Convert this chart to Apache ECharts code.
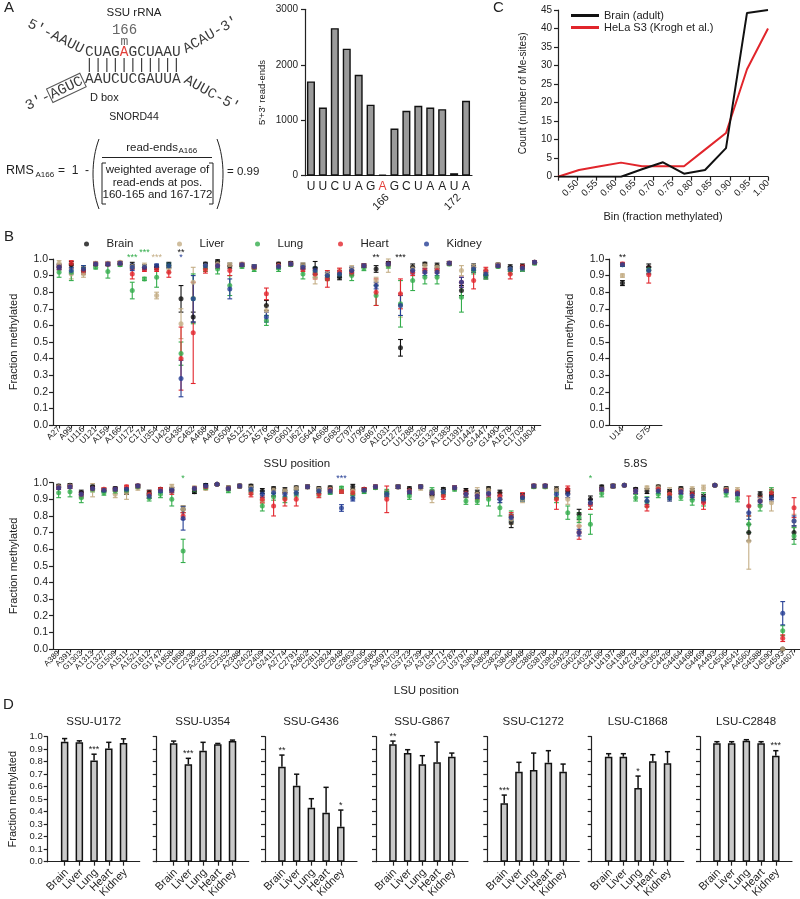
<!DOCTYPE html>
<html>
<head>
<meta charset="utf-8">
<title>rRNA 2'-O-methylation across tissues</title>
<script src="https://cdn.jsdelivr.net/npm/echarts@6.0.0/dist/echarts.min.js"></script>
<style>
html,body{margin:0;padding:0;background:#fff;}
#chart{width:800px;height:899px;}
</style>
</head>
<body>
<div id="chart"></div>
<script>
// ---------------- Panel A : read-ends around SSU A166 ----------------
const readSeq = ['U','U','C','U','A','G','A','G','C','U','A','A','U','A'];
const readEnds = [1700,1230,2660,2290,1820,1280,15,850,1170,1260,1230,1200,45,1350];
const readPosMarks = ['','','','','','','166','','','','','','172',''];
const modifiedIndex = 6;
const readTicks = [0,1000,2000,3000];

// ---------------- Panel C : histogram of methylation levels ----------------
const binLabels = ['0.50','0.55','0.60','0.65','0.70','0.75','0.80','0.85','0.90','0.95','1.00'];
const brainCounts = [0,0,0,0,2,3.9,0.8,1.8,7.7,44.2,45];
const helaCounts = [0,1.8,2.8,3.8,2.8,2.8,2.8,7.3,11.8,29,40];

// ---------------- Panel B : fraction methylated per site ----------------
const tissues = ['Brain','Liver','Lung','Heart','Kidney'];
const tissueColors = ['#111111','#c4ae86','#34ad4c','#e2262d','#263f95'];

const ssuPos = ['A27','A99','U116','U121','A159','A166','U172','C174','U354','U428','G436','C462','A468','A484','G509','A512','C517','A576','A590','G601','U627','G644','A668','G683','C797','U799','G867','A1031','C1272','U1288','U1326','G1328','A1383','C1391','U1442','G1447','G1490','A1678','C1703','U1804'];
const ssuBrain  = [0.955,0.965,0.93,0.97,0.97,0.975,0.96,0.95,0.95,0.965, 0.76,0.65,0.97,0.985,0.96,0.965,0.955,0.72,0.97,0.975, 0.96,0.945,0.90,0.89,0.93,0.96,0.94,0.975,0.465,0.95, 0.97,0.96,0.975,0.81,0.95,0.90,0.965,0.95,0.955,0.98];
const ssuLiver  = [0.975,0.91,0.91,0.975,0.975,0.98,0.955,0.96,0.78,0.94, 0.61,0.86,0.96,0.97,0.965,0.97,0.955,0.69,0.96,0.97, 0.96,0.89,0.91,0.92,0.94,0.96,0.87,0.96,0.72,0.94, 0.96,0.95,0.975,0.93,0.95,0.92,0.965,0.94,0.94,0.98];
const ssuLung   = [0.92,0.92,0.94,0.95,0.925,0.965,0.81,0.88,0.89,0.96, 0.43,0.76,0.945,0.94,0.84,0.955,0.94,0.63,0.945,0.965, 0.91,0.92,0.89,0.91,0.90,0.945,0.78,0.96,0.73,0.87, 0.89,0.89,0.97,0.77,0.93,0.90,0.955,0.93,0.94,0.975];
const ssuHeart  = [0.95,0.975,0.93,0.97,0.97,0.975,0.91,0.94,0.94,0.92, 0.40,0.555,0.935,0.96,0.93,0.965,0.95,0.79,0.96,0.97, 0.94,0.91,0.88,0.925,0.92,0.96,0.80,0.97,0.79,0.92, 0.93,0.93,0.975,0.86,0.87,0.93,0.96,0.91,0.95,0.98];
const ssuKidney = [0.95,0.93,0.94,0.97,0.97,0.975,0.95,0.95,0.96,0.96, 0.28,0.76,0.96,0.96,0.82,0.965,0.955,0.65,0.955,0.97, 0.95,0.93,0.90,0.91,0.93,0.96,0.84,0.97,0.72,0.93, 0.92,0.92,0.975,0.86,0.94,0.91,0.96,0.94,0.945,0.98];
const ssuBrainErr  = [0.015,0.02,0.02,0.01,0.01,0.01,0.02,0.015,0.015,0.015, 0.08,0.03,0.01,0.01,0.015,0.01,0.01,0.03,0.01,0.01, 0.015,0.04,0.02,0.015,0.02,0.01,0.02,0.01,0.05,0.02, 0.01,0.015,0.01,0.03,0.02,0.02,0.01,0.015,0.015,0.01];
const ssuLiverErr  = [0.015,0.03,0.02,0.01,0.01,0.01,0.01,0.015,0.02,0.02, 0.09,0.09,0.015,0.015,0.01,0.01,0.01,0.03,0.015,0.01, 0.015,0.04,0.02,0.02,0.02,0.01,0.02,0.04,0.07,0.02, 0.015,0.015,0.01,0.03,0.015,0.02,0.01,0.015,0.015,0.01];
const ssuLungErr   = [0.03,0.05,0.02,0.01,0.04,0.01,0.05,0.01,0.06,0.015, 0.07,0.15,0.02,0.03,0.06,0.01,0.015,0.03,0.02,0.01, 0.03,0.03,0.02,0.02,0.03,0.015,0.06,0.015,0.14,0.06, 0.04,0.04,0.01,0.09,0.02,0.02,0.01,0.02,0.015,0.01];
const ssuHeartErr  = [0.015,0.015,0.02,0.01,0.01,0.01,0.03,0.015,0.015,0.03, 0.19,0.305,0.02,0.015,0.03,0.01,0.01,0.035,0.015,0.01, 0.015,0.03,0.05,0.02,0.02,0.01,0.08,0.01,0.09,0.02, 0.015,0.015,0.01,0.03,0.05,0.02,0.01,0.03,0.015,0.01];
const ssuKidneyErr = [0.015,0.02,0.02,0.01,0.01,0.01,0.02,0.015,0.01,0.015, 0.11,0.14,0.015,0.015,0.06,0.01,0.01,0.03,0.015,0.01, 0.015,0.02,0.02,0.02,0.02,0.01,0.02,0.01,0.06,0.02, 0.02,0.02,0.01,0.03,0.02,0.02,0.01,0.015,0.015,0.01];
const ssuStars = [['U172','Lung','***',1.02],['C174','Lung','***',1.05],['U354','Liver','***',1.02],['G436','Brain','**',1.05],['G436','Kidney','*',1.02],['G867','Brain','**',1.02],['C1272','Brain','***',1.02]];

const s58Pos = ['U14','G75'];
const s58Brain  = [0.855,0.95];
const s58Liver  = [0.90,0.93];
const s58Lung   = [0.965,0.935];
const s58Heart  = [0.97,0.905];
const s58Kidney = [0.965,0.93];
const s58BrainErr  = [0.015,0.02];
const s58LiverErr  = [0.01,0.02];
const s58LungErr   = [0.01,0.02];
const s58HeartErr  = [0.01,0.05];
const s58KidneyErr = [0.01,0.02];
const s58Stars = [['U14','Brain','**',1.02]];

const lsuPos = ['A389','A391','G1303','A1313','C1327','G1509','A1511','A1521','G1612','G1747','A1858','C1868','C2338','A2350','G2351','C2352','A2388','U2402','C2409','G2411','A2774','C2791','A2802','C2811','U2824','C2848','G2863','G3606','C3680','A3697','A3703','G3723','A3739','A3764','G3771','C3787','U3797','A3804','A3809','C3820','A3846','C3848','C3866','G3878','U3904','G3923','G4020','C4032','G4166','U4197','G4198','U4276','G4340','G4362','C4426','G4464','U4468','G4469','A4493','C4506','A4541','A4560','G4588','U4590','G4593','G4607'];
const lsuBrain  = [0.98,0.985,0.94,0.975,0.955,0.965,0.945,0.98,0.94,0.96, 0.96,0.84,0.945,0.985,0.99,0.97,0.98,0.98,0.95,0.965, 0.955,0.97,0.975,0.965,0.97,0.947,0.975,0.96,0.975,0.935, 0.975,0.965,0.975,0.93,0.96,0.97,0.95,0.94,0.965,0.94, 0.76,0.915,0.98,0.98,0.96,0.95,0.81,0.90,0.975,0.98, 0.985,0.96,0.95,0.975,0.945,0.965,0.95,0.91,0.985,0.965, 0.94,0.70,0.93,0.92,0.0,0.70];
const lsuLiver  = [0.975,0.98,0.925,0.955,0.96,0.93,0.94,0.97,0.925,0.955, 0.975,0.84,0.97,0.965,0.99,0.97,0.98,0.97,0.895,0.955, 0.95,0.965,0.975,0.96,0.96,0.947,0.95,0.955,0.975,0.93, 0.975,0.95,0.97,0.91,0.945,0.97,0.93,0.93,0.955,0.91, 0.78,0.90,0.98,0.975,0.955,0.90,0.74,0.87,0.96,0.98, 0.985,0.95,0.97,0.97,0.93,0.955,0.96,0.97,0.985,0.96, 0.955,0.65,0.90,0.88,0.0,0.77];
const lsuLung   = [0.94,0.945,0.91,0.96,0.94,0.95,0.955,0.975,0.91,0.93, 0.90,0.59,0.96,0.97,0.99,0.955,0.98,0.95,0.86,0.915, 0.91,0.935,0.975,0.94,0.945,0.968,0.93,0.95,0.97,0.94, 0.975,0.92,0.975,0.95,0.94,0.96,0.89,0.89,0.90,0.85, 0.80,0.91,0.975,0.975,0.91,0.82,0.79,0.75,0.935,0.98, 0.985,0.91,0.885,0.93,0.92,0.915,0.895,0.90,0.985,0.935, 0.905,0.75,0.86,0.95,0.11,0.68];
const lsuHeart  = [0.97,0.975,0.93,0.965,0.96,0.96,0.975,0.98,0.93,0.96, 0.95,0.80,0.965,0.975,0.99,0.965,0.98,0.935,0.90,0.86, 0.90,0.90,0.975,0.93,0.955,0.947,0.94,0.96,0.975,0.90, 0.975,0.95,0.975,0.94,0.92,0.97,0.935,0.92,0.93,0.92, 0.80,0.92,0.98,0.98,0.90,0.96,0.70,0.87,0.96,0.98, 0.985,0.95,0.86,0.96,0.93,0.95,0.93,0.88,0.985,0.955, 0.94,0.86,0.89,0.94,0.065,0.85];
const lsuKidney = [0.97,0.975,0.93,0.965,0.955,0.96,0.96,0.98,0.92,0.95, 0.955,0.785,0.965,0.98,0.99,0.965,0.98,0.96,0.93,0.94, 0.93,0.94,0.975,0.95,0.95,0.848,0.905,0.955,0.975,0.93, 0.975,0.945,0.975,0.94,0.945,0.97,0.93,0.92,0.935,0.90, 0.79,0.91,0.98,0.98,0.93,0.93,0.70,0.88,0.96,0.98, 0.985,0.95,0.89,0.95,0.91,0.945,0.92,0.90,0.985,0.95, 0.935,0.82,0.89,0.91,0.215,0.77];
const lsuBrainErr  = [0.01,0.01,0.015,0.01,0.01,0.01,0.015,0.01,0.015,0.01, 0.01,0.02,0.01,0.01,0.005,0.01,0.01,0.01,0.015,0.01, 0.015,0.01,0.01,0.01,0.01,0.01,0.015,0.01,0.01,0.015, 0.01,0.01,0.01,0.015,0.01,0.01,0.015,0.015,0.01,0.015, 0.03,0.02,0.01,0.01,0.015,0.015,0.03,0.02,0.01,0.01, 0.005,0.01,0.015,0.01,0.015,0.01,0.015,0.02,0.005,0.01, 0.015,0.05,0.015,0.02,0.0,0.04];
const lsuLiverErr  = [0.01,0.01,0.02,0.04,0.01,0.02,0.04,0.015,0.02,0.015, 0.015,0.02,0.01,0.01,0.005,0.01,0.01,0.015,0.02,0.015, 0.015,0.01,0.01,0.01,0.015,0.01,0.015,0.015,0.01,0.02, 0.01,0.015,0.015,0.03,0.015,0.01,0.02,0.04,0.015,0.03, 0.03,0.02,0.01,0.01,0.015,0.03,0.03,0.03,0.01,0.01, 0.005,0.015,0.01,0.015,0.04,0.015,0.015,0.015,0.005,0.01, 0.015,0.17,0.02,0.05,0.0,0.04];
const lsuLungErr   = [0.03,0.03,0.03,0.015,0.015,0.015,0.015,0.01,0.02,0.02, 0.04,0.07,0.015,0.01,0.005,0.015,0.01,0.02,0.03,0.02, 0.03,0.02,0.01,0.02,0.015,0.01,0.02,0.015,0.01,0.02, 0.01,0.02,0.01,0.02,0.02,0.01,0.02,0.02,0.04,0.05, 0.03,0.02,0.01,0.01,0.03,0.04,0.03,0.06,0.02,0.01, 0.005,0.02,0.03,0.02,0.02,0.02,0.03,0.04,0.005,0.02, 0.02,0.05,0.03,0.02,0.03,0.05];
const lsuHeartErr  = [0.01,0.01,0.015,0.01,0.01,0.01,0.01,0.01,0.02,0.01, 0.02,0.02,0.01,0.01,0.005,0.01,0.01,0.02,0.02,0.06, 0.04,0.04,0.01,0.02,0.015,0.01,0.015,0.01,0.01,0.08, 0.01,0.015,0.01,0.015,0.02,0.01,0.02,0.02,0.02,0.02, 0.02,0.02,0.01,0.01,0.06,0.02,0.04,0.03,0.01,0.01, 0.005,0.015,0.03,0.015,0.02,0.015,0.02,0.04,0.005,0.01, 0.015,0.06,0.03,0.02,0.02,0.06];
const lsuKidneyErr = [0.01,0.01,0.015,0.01,0.01,0.01,0.01,0.01,0.015,0.01, 0.015,0.07,0.01,0.01,0.005,0.01,0.01,0.015,0.02,0.02, 0.015,0.015,0.01,0.015,0.015,0.02,0.015,0.01,0.01,0.015, 0.01,0.015,0.01,0.015,0.015,0.01,0.015,0.015,0.015,0.02, 0.02,0.02,0.01,0.01,0.02,0.02,0.02,0.02,0.01,0.01, 0.005,0.015,0.02,0.015,0.02,0.015,0.02,0.02,0.005,0.01, 0.015,0.04,0.02,0.02,0.07,0.03];
const lsuStars = [['C1868','Lung','*',1.04],['C2848','Kidney','***',1.04],['C4032','Lung','*',1.04]];

const fractionTicks = [0,0.1,0.2,0.3,0.4,0.5,0.6,0.7,0.8,0.9,1.0];

// ---------------- Panel D : selected sites ----------------
const dTitles = ['SSU-U172','SSU-U354','SSU-G436','SSU-G867','SSU-C1272','LSU-C1868','LSU-C2848'];
const dMeans = [
  [0.96,0.955,0.81,0.905,0.95],
  [0.947,0.78,0.888,0.94,0.965],
  [0.76,0.608,0.432,0.392,0.28],
  [0.94,0.869,0.78,0.795,0.84],
  [0.467,0.72,0.733,0.792,0.72],
  [0.84,0.84,0.59,0.803,0.787],
  [0.947,0.947,0.968,0.947,0.848]
];
const dErr = [
  [0.025,0.012,0.05,0.05,0.033],
  [0.018,0.047,0.067,0.006,0.008],
  [0.093,0.092,0.072,0.203,0.133],
  [0.025,0.027,0.068,0.162,0.029],
  [0.066,0.075,0.136,0.096,0.061],
  [0.024,0.024,0.095,0.053,0.093],
  [0.013,0.013,0.008,0.013,0.04]
];
const dStars = [
  ['','','***','',''],
  ['','***','','',''],
  ['**','','','','*'],
  ['**','','','',''],
  ['***','','','',''],
  ['','','*','',''],
  ['','','','','***']
];

// ---------------- Rendering ----------------
const FONT = '"Liberation Sans", Arial, Helvetica, sans-serif';
const MONO = '"Liberation Mono", "DejaVu Sans Mono", monospace';
const INK = '#222';

function errBar(color, halfCap, lw, onlyUp){
  return function(params, api){
    const x = api.value(0), lo = api.value(1), hi = api.value(2);
    const a = api.coord([x, lo]), b = api.coord([x, hi]);
    const st = {stroke: color, lineWidth: lw};
    const kids = [
      {type:'line', shape:{x1:a[0], y1:a[1], x2:b[0], y2:b[1]}, style:st},
      {type:'line', shape:{x1:b[0]-halfCap, y1:b[1], x2:b[0]+halfCap, y2:b[1]}, style:st}
    ];
    if (!onlyUp) kids.push({type:'line', shape:{x1:a[0]-halfCap, y1:a[1], x2:a[0]+halfCap, y2:a[1]}, style:st});
    return {type:'group', children:kids};
  };
}
function textMarks(texts, colors, dx, dy, size, rot, align){
  return function(params, api){
    const p = api.coord([api.value(0), api.value(1)]);
    return {type:'text', x:p[0]+dx, y:p[1]+dy, rotation:rot||0,
      style:{text:texts[params.dataIndex], fill:colors[params.dataIndex], font:size+'px '+FONT,
             align:align||'center', verticalAlign:'middle'}};
  };
}

const axLine = {show:true, onZero:false, lineStyle:{color:INK, width:1.2}};
const axTick = {show:true, length:4, lineStyle:{color:INK, width:1.2}};
const fmt1 = v => v.toFixed(1);

const grids = [], xAxes = [], yAxes = [], series = [];

// Panel A bars (grid 0)
grids.push({left:305, top:9.3, width:167, height:166.4});
xAxes.push({type:'category', gridIndex:0, data:readSeq, axisLine:axLine, axisTick:{show:false},
  axisLabel:{interval:0, fontSize:12, margin:5, color:(v,i)=> i===modifiedIndex ? '#e2403a' : INK}});
yAxes.push({type:'value', gridIndex:0, min:0, max:readTicks[readTicks.length-1], interval:1000,
  axisLine:axLine, axisTick:axTick, splitLine:{show:false},
  axisLabel:{fontSize:10, color:INK, margin:7, formatter:v=>String(v)},
  name:"5'+3' read-ends", nameLocation:'middle', nameGap:38, nameTextStyle:{fontSize:9.5, color:INK}});
series.push({type:'bar', xAxisIndex:0, yAxisIndex:0, data:readEnds, barWidth:8,
  itemStyle:{color:'#9b9b9b', borderColor:'#111', borderWidth:1.4}, silent:true});
const markIdx = readPosMarks.map((m,i)=>m?i:-1).filter(i=>i>=0);
series.push({type:'custom', xAxisIndex:0, yAxisIndex:0, clip:false, silent:true,
  data: markIdx.map(i=>[i,0]), encode:{x:0,y:1},
  renderItem: textMarks(markIdx.map(i=>readPosMarks[i]), markIdx.map(()=>INK), 5, 20, 11, Math.PI/4, 'right')});

// Panel C (grid 1)
grids.push({left:558, top:10, width:210, height:166.7});
xAxes.push({type:'category', gridIndex:1, data:[''].concat(binLabels), boundaryGap:false, axisLine:axLine,
  axisTick:{show:true, length:4, interval:0, lineStyle:{color:INK, width:1.2}},
  axisLabel:{interval:0, rotate:45, fontSize:9.5, color:INK, margin:5},
  name:'Bin (fraction methylated)', nameLocation:'middle', nameGap:35, nameTextStyle:{fontSize:11, color:INK}});
xAxes.push({type:'category', gridIndex:1, data:binLabels, boundaryGap:false, position:'top', show:false});
yAxes.push({type:'value', gridIndex:1, min:0, max:45, interval:5, axisLine:axLine, axisTick:axTick,
  splitLine:{show:false}, axisLabel:{fontSize:10, color:INK, margin:6},
  name:'Count (number of Me-sites)', nameLocation:'middle', nameGap:30, nameTextStyle:{fontSize:10, color:INK}});
series.push({type:'line', name:'HeLa S3 (Krogh et al.)', xAxisIndex:2, yAxisIndex:1, data:helaCounts,
  showSymbol:false, color:'#e1252b', lineStyle:{width:2, color:'#e1252b'}, silent:true, z:3});
series.push({type:'line', name:'Brain (adult)', xAxisIndex:2, yAxisIndex:1, data:brainCounts,
  showSymbol:false, color:'#111', lineStyle:{width:2, color:'#111'}, silent:true, z:4});

// Panel B (grids 2,3,4)
const bPanels = [
  {pos:ssuPos, means:[ssuBrain,ssuLiver,ssuLung,ssuHeart,ssuKidney], errs:[ssuBrainErr,ssuLiverErr,ssuLungErr,ssuHeartErr,ssuKidneyErr],
   stars:ssuStars, grid:{left:42.7, top:259, width:498, height:166}, label:8.5, name:'SSU position', nameGap:33},
  {pos:s58Pos, means:[s58Brain,s58Liver,s58Lung,s58Heart,s58Kidney], errs:[s58BrainErr,s58LiverErr,s58LungErr,s58HeartErr,s58KidneyErr],
   stars:s58Stars, grid:{left:609.3, top:259, width:52.6, height:166}, label:8.5, name:'5.8S', nameGap:33},
  {pos:lsuPos, means:[lsuBrain,lsuLiver,lsuLung,lsuHeart,lsuKidney], errs:[lsuBrainErr,lsuLiverErr,lsuLungErr,lsuHeartErr,lsuKidneyErr],
   stars:lsuStars, grid:{left:41.7, top:482.7, width:758, height:166.3}, label:8, name:'LSU position', nameGap:36}
];
bPanels.forEach(p => {
  const gi = grids.length;
  grids.push(p.grid);
  const xi = xAxes.length, yi = yAxes.length;
  xAxes.push({type:'category', gridIndex:gi, data:p.pos, boundaryGap:true, axisLine:axLine,
    axisTick:{show:true, length:3.5, alignWithLabel:true, interval:0, lineStyle:{color:INK, width:1.1}},
    axisLabel:{interval:0, rotate:45, fontSize:p.label, color:INK, margin:3},
    name:p.name, nameLocation:'middle', nameGap:p.nameGap, nameTextStyle:{fontSize:11.5, color:INK}});
  yAxes.push({type:'value', gridIndex:gi, min:0, max:1, interval:0.1, axisLine:axLine, axisTick:axTick,
    splitLine:{show:false}, axisLabel:{fontSize:10.5, color:INK, margin:5, formatter:fmt1},
    name:'Fraction methylated', nameLocation:'middle', nameGap:34, nameTextStyle:{fontSize:11, color:INK}});
  tissues.forEach((t,k) => {
    series.push({type:'custom', name:t+' SD', xAxisIndex:xi, yAxisIndex:yi, clip:false, silent:true, z:2,
      data:p.means[k].map((m,i)=>[i, Math.max(0, m-p.errs[k][i]), m+p.errs[k][i]]), encode:{x:0, y:[1,2]},
      renderItem: errBar(tissueColors[k], 2.4, 1.1, false)});
    series.push({type:'scatter', name:t, xAxisIndex:xi, yAxisIndex:yi, silent:true, z:3,
      data:p.means[k].map((m,i)=>[i,m]), symbol:'circle', symbolSize:5, itemStyle:{color:tissueColors[k]}});
  });
  series.push({type:'custom', xAxisIndex:xi, yAxisIndex:yi, clip:false, silent:true, z:4,
    data:p.stars.map(s=>[p.pos.indexOf(s[0]), s[3]]), encode:{x:0,y:1},
    renderItem: textMarks(p.stars.map(s=>s[2]), p.stars.map(s=>tissueColors[tissues.indexOf(s[1])]), 0, 2, 9)});
});

// Panel D (grids 5..11)
const dLefts = [47.7,156.7,265,376,487.3,591.7,700];
dTitles.forEach((title, c) => {
  const gi = grids.length;
  grids.push({left:dLefts[c], top:736.7, width:92, height:125});
  const xi = xAxes.length, yi = yAxes.length;
  const idx = tissues.map((t,j)=>j);
  xAxes.push({type:'value', gridIndex:gi, min:-1.15, max:5.1, axisLine:axLine, splitLine:{show:false},
    axisTick:{show:true, length:4, customValues:idx, lineStyle:{color:INK, width:1.2}},
    axisLabel:{show:false}});
  yAxes.push({type:'value', gridIndex:gi, min:0, max:1, interval:0.1, axisLine:axLine, axisTick:axTick,
    splitLine:{show:false},
    axisLabel:{show:c===0, fontSize:9.5, color:INK, margin:5, formatter:fmt1},
    name: c===0 ? 'Fraction methylated' : '', nameLocation:'middle', nameGap:29, nameTextStyle:{fontSize:11, color:INK}});
  series.push({type:'bar', xAxisIndex:xi, yAxisIndex:yi, silent:true, barWidth:7.5,
    data:dMeans[c].map((v,j)=>[j,v]), itemStyle:{color:'#c9c9c9', borderColor:'#111', borderWidth:1.5}});
  series.push({type:'custom', xAxisIndex:xi, yAxisIndex:yi, silent:true, clip:false, z:3,
    data:dMeans[c].map((v,j)=>[j, v, v+dErr[c][j]]), encode:{x:0,y:[1,2]},
    renderItem: errBar('#111', 2.6, 1.5, true)});
  // tissue names under each bar (rotated category labels)
  series.push({type:'custom', xAxisIndex:xi, yAxisIndex:yi, silent:true, clip:false, z:4,
    data: idx.map(j=>[j,0]), encode:{x:0,y:1},
    renderItem: textMarks(tissues, tissues.map(()=>INK), 2, 9, 11, Math.PI/4, 'right')});
  const st = dStars[c].map((s,j)=>s?j:-1).filter(j=>j>=0);
  series.push({type:'custom', xAxisIndex:xi, yAxisIndex:yi, silent:true, clip:false, z:4,
    data: st.map(j=>[j, dMeans[c][j]+dErr[c][j]]), encode:{x:0,y:1},
    renderItem: textMarks(st.map(j=>dStars[c][j]), st.map(()=>INK), 0, -5, 9)});
});

// legends
const legendDots = [94,187,265,348,434];
const legends = tissues.map((t,k)=>({data:[t], left:legendDots[k]-15, top:233, itemWidth:30, itemHeight:5,
  icon:'circle', selectedMode:false, textStyle:{fontSize:11.5, color:INK}}));
legends.push({data:['Brain (adult)','HeLa S3 (Krogh et al.)'], orient:'vertical', left:566, top:5,
  itemWidth:28, itemHeight:3, icon:'rect', itemGap:1, selectedMode:false, textStyle:{fontSize:11, color:INK}});

// text / drawing for the diagram
const T = (x,y,text,font,extra) => ({type:'text', x, y, silent:true,
  style:Object.assign({text, font, fill:INK, align:'left', verticalAlign:'middle'}, extra||{})});
const SEQ = '14.5px ' + MONO;
const graphic = [
  T(4,8,'A','15px '+FONT), T(4,237,'B','15px '+FONT), T(493,8,'C','15px '+FONT), T(3,705,'D','15px '+FONT),
  T(134,13,'SSU rRNA','11.5px '+FONT,{align:'center'}),
  T(124.5,30,'166','14px '+MONO,{align:'center', fill:'#666'}),
  T(124.5,42,'m','13px '+MONO,{align:'center', fill:'#666'}),
  T(85,52,'CUAG{r|A}GCUAAU',SEQ,{fill:'#3a3a3a', rich:{r:{fill:'#e2403a', font:SEQ}}}),
  T(85,65,'|||||||||||',SEQ,{fill:'#3a3a3a'}),
  T(85,79,'AAUCUCGAUUA',SEQ,{fill:'#3a3a3a'}),
  Object.assign(T(83,50,"5'-AAUU",SEQ,{align:'right', fill:'#3a3a3a'}),{rotation:-0.46}),
  Object.assign(T(184,50,"ACAU-3'",SEQ,{fill:'#3a3a3a'}),{rotation:0.52}),
  Object.assign(T(83,80,"3'-{b|AGUC}",SEQ,{align:'right', fill:'#3a3a3a',
     rich:{b:{font:SEQ, fill:'#3a3a3a', borderColor:'#555', borderWidth:1, padding:[0,1,0,1]}}}),{rotation:0.44}),
  Object.assign(T(185,79,"AUUC-5'",SEQ,{fill:'#3a3a3a'}),{rotation:-0.5}),
  T(90,98,'D box','11px '+FONT),
  T(134,117,'SNORD44','10.5px '+FONT,{align:'center'}),
  T(6,171,'RMS','12.5px '+FONT),
  T(35.5,174.5,'A166','8px '+FONT),
  T(58,171,'=  1  -','12px '+FONT),
  T(178,148,'read-ends','11.5px '+FONT,{align:'right'}),
  T(178.5,151,'A166','8px '+FONT),
  T(157.5,170,'weighted average of','11.5px '+FONT,{align:'center'}),
  T(157.5,182.5,'read-ends at pos.','11.5px '+FONT,{align:'center'}),
  T(157.5,195,'160-165 and 167-172','11.5px '+FONT,{align:'center'}),
  T(227,172,'= 0.99','11.5px '+FONT),
  {type:'line', silent:true, shape:{x1:102,y1:157.5,x2:212,y2:157.5}, style:{stroke:INK, lineWidth:1}},
  {type:'polyline', silent:true, shape:{points:[[106,163],[102,163],[102,204],[106,204]]}, style:{stroke:INK, lineWidth:1, fill:null}},
  {type:'polyline', silent:true, shape:{points:[[209,163],[213,163],[213,204],[209,204]]}, style:{stroke:INK, lineWidth:1, fill:null}},
  {type:'bezierCurve', silent:true, shape:{x1:99,y1:139,x2:99,y2:209,cpx1:91,cpy1:160,cpx2:91,cpy2:188}, style:{stroke:INK, lineWidth:1, fill:null}},
  {type:'bezierCurve', silent:true, shape:{x1:217,y1:139,x2:217,y2:209,cpx1:225,cpy1:160,cpx2:225,cpy2:188}, style:{stroke:INK, lineWidth:1, fill:null}}
];
dTitles.forEach((t,c)=>graphic.push(T(dLefts[c]+46, 721.5, t, '11.5px '+FONT, {align:'center'})));

const chart = echarts.init(document.getElementById('chart'), null, {renderer:'canvas', width:800, height:899});
chart.setOption({
  backgroundColor:'#fff', animation:false,
  textStyle:{fontFamily:FONT, color:INK},
  grid:grids, xAxis:xAxes, yAxis:yAxes, legend:legends, series:series, graphic:graphic
});
</script>
</body>
</html>
